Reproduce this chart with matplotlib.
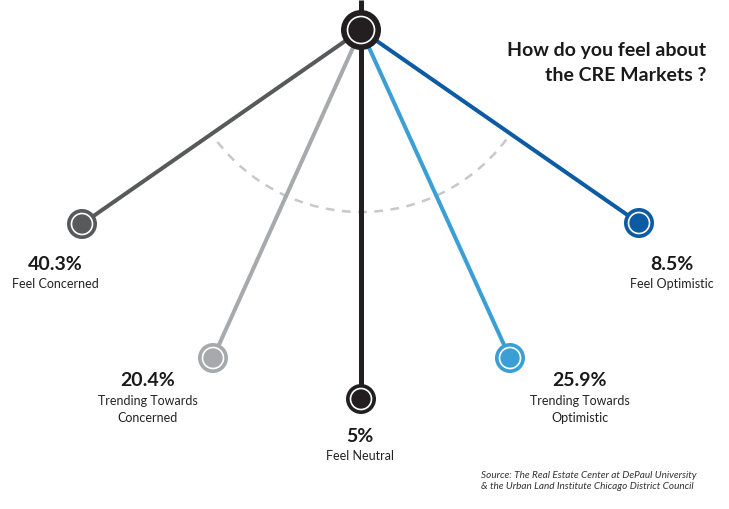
import matplotlib
matplotlib.use("Agg")
import matplotlib.pyplot as plt
from matplotlib.patches import Circle, Arc
import numpy as np

# ---- data ----
categories = ["Feel Concerned", "Trending Towards\nConcerned", "Feel Neutral",
              "Trending Towards\nOptimistic", "Feel Optimistic"]
values = [40.3, 20.4, 5.0, 25.9, 8.5]
value_labels = ["40.3%", "20.4%", "5%", "25.9%", "8.5%"]
title = "How do you feel about\nthe CRE Markets ?"
source = "Source: The Real Estate Center at DePaul University\n& the Urban Land Institute Chicago District Council"

# ---- layout (pixel space) ----
colors = ["#58595b", "#a7a9ac", "#231f20", "#3a9fd6", "#0d5ba3"]
pivot = (361, 30)
end_dx = [-279, -148, 0, 149, 278]
end_dy = [194, 328, 369, 328, 193]
label_xy = [(55, 264), (148, 381), (360, 436), (580, 381), (672, 264)]
line_w = [2.9, 2.9, 3.6, 2.9, 2.9]

plt.rcParams['font.family'] = ['Lato', 'DejaVu Sans']
W, H = 729, 509
fig = plt.figure(figsize=(W / 100, H / 100), dpi=100)
ax = fig.add_axes([0, 0, 1, 1])
ax.set_xlim(0, W)
ax.set_ylim(H, 0)
ax.set_aspect('equal')
ax.axis('off')

# dashed arc
arc = Arc(pivot, 2 * 182, 2 * 182, angle=0, theta1=37, theta2=143,
          color="#c8c8c8", lw=1.8, linestyle=(0, (3.5, 3)), zorder=1)
ax.add_patch(arc)

# top vertical stub
ax.plot([pivot[0], pivot[0]], [0, pivot[1]], color="#231f20", lw=3.6,
        solid_capstyle='butt', zorder=2)

for i, (cat, val) in enumerate(zip(categories, values)):
    ex, ey = pivot[0] + end_dx[i], pivot[1] + end_dy[i]
    ax.plot([pivot[0], ex], [pivot[1], ey], color=colors[i], lw=line_w[i],
            solid_capstyle='butt', zorder=2 if i != 2 else 3)
    ax.add_patch(Circle((ex, ey), 15, facecolor=colors[i], edgecolor='none', zorder=4))
    ax.add_patch(Circle((ex, ey), 10.5, facecolor='none', edgecolor='white', lw=1.2, zorder=5))
    lx, ly = label_xy[i]
    ax.text(lx, ly, value_labels[i], ha='center', va='center', fontsize=14,
            fontweight='bold', color="#1a1a1a", zorder=6)
    ax.text(lx, ly + 14, cat, ha='center', va='top', fontsize=9,
            color="#222222", linespacing=1.45, zorder=6)

# pivot
ax.add_patch(Circle(pivot, 20, facecolor="#231f20", edgecolor='none', zorder=7))
ax.add_patch(Circle(pivot, 13.5, facecolor='none', edgecolor='white', lw=1.2, zorder=8))

ax.text(706, 63, title, ha='right', va='center', fontsize=14, fontweight='bold',
        color="#1a1a1a", linespacing=1.6)
ax.text(481, 481, source, ha='left', va='center', fontsize=7.2, style='italic',
        color="#333333", linespacing=1.35)

fig.savefig("out.png", dpi=100)
